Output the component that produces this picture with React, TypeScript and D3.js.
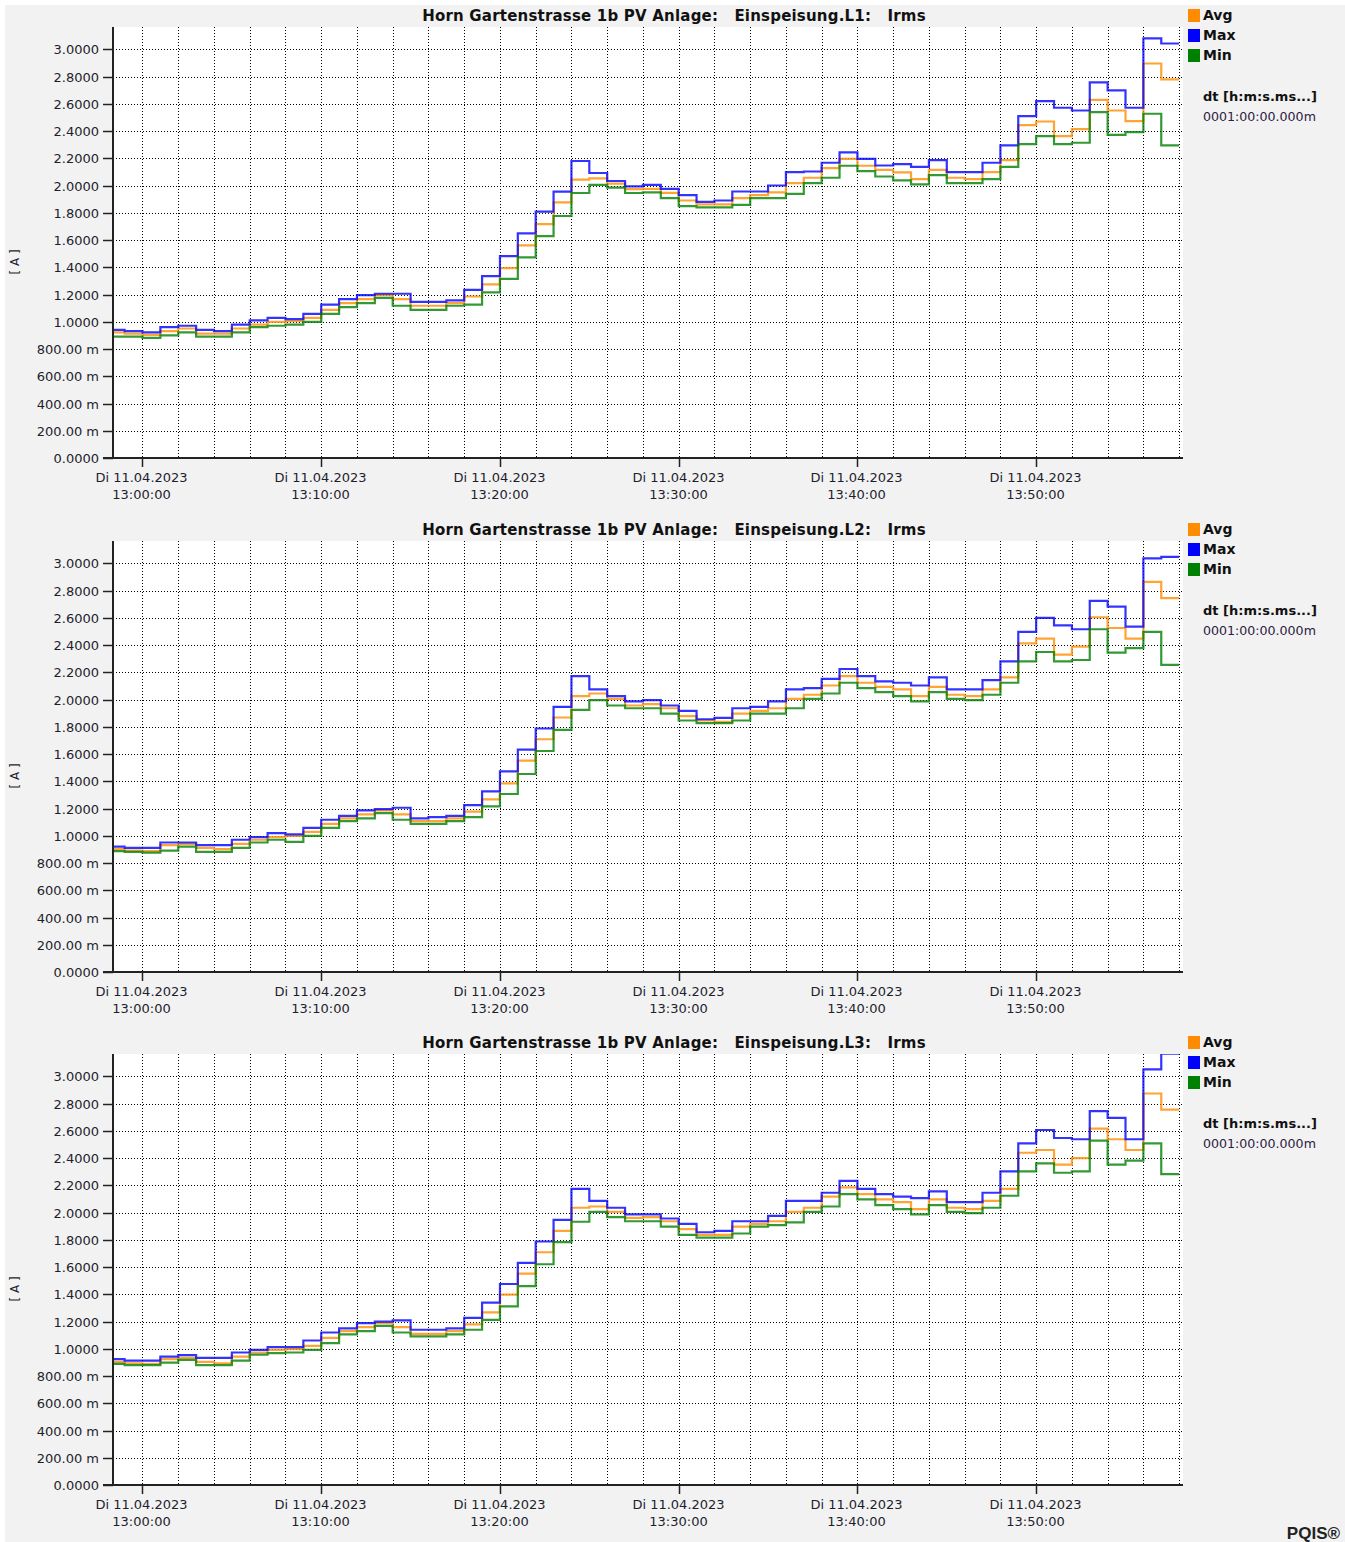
import React, { useEffect, useRef } from 'react';
import * as d3 from 'd3';

// one value per minute, 12:58 .. 13:57 (step after)
const startTime = new Date(2023, 3, 11, 12, 58, 0);

const phases = ['Einspeisung.L1', 'Einspeisung.L2', 'Einspeisung.L3'];

const avgL1 = [0.922, 0.914, 0.904, 0.931, 0.951, 0.914, 0.914, 0.951, 0.980, 1.000,
  1.005, 1.029, 1.088, 1.137, 1.167, 1.196, 1.167, 1.118, 1.118, 1.137,
  1.186, 1.275, 1.395, 1.561, 1.718, 1.877, 2.044, 2.054, 2.015, 1.975,
  1.977, 1.947, 1.891, 1.862, 1.862, 1.908, 1.930, 1.950, 2.018, 2.058,
  2.129, 2.197, 2.146, 2.116, 2.097, 2.048, 2.116, 2.058, 2.048, 2.099,
  2.187, 2.444, 2.471, 2.364, 2.415, 2.630, 2.552, 2.474, 2.897, 2.780];
const maxL1 = [0.941, 0.931, 0.922, 0.961, 0.971, 0.941, 0.931, 0.980, 1.010, 1.029,
  1.020, 1.059, 1.127, 1.167, 1.196, 1.206, 1.206, 1.147, 1.147, 1.157,
  1.235, 1.336, 1.483, 1.650, 1.809, 1.956, 2.181, 2.093, 2.034, 1.995,
  2.006, 1.977, 1.930, 1.881, 1.891, 1.957, 1.957, 2.001, 2.099, 2.104,
  2.168, 2.244, 2.197, 2.148, 2.158, 2.138, 2.187, 2.099, 2.099, 2.168,
  2.295, 2.510, 2.621, 2.572, 2.552, 2.758, 2.699, 2.572, 3.081, 3.044];
const minL1 = [0.892, 0.892, 0.882, 0.900, 0.922, 0.892, 0.892, 0.922, 0.961, 0.971,
  0.980, 1.000, 1.059, 1.108, 1.137, 1.176, 1.118, 1.088, 1.088, 1.118,
  1.127, 1.216, 1.316, 1.473, 1.630, 1.777, 1.946, 2.005, 1.985, 1.946,
  1.950, 1.908, 1.849, 1.840, 1.840, 1.859, 1.908, 1.908, 1.940, 2.018,
  2.058, 2.146, 2.107, 2.067, 2.038, 2.009, 2.077, 2.018, 2.018, 2.048,
  2.138, 2.305, 2.364, 2.305, 2.315, 2.540, 2.373, 2.393, 2.528, 2.295];

const avgL2 = [0.902, 0.892, 0.887, 0.931, 0.941, 0.912, 0.902, 0.941, 0.971, 0.990,
  1.000, 1.029, 1.088, 1.128, 1.157, 1.187, 1.157, 1.108, 1.108, 1.128,
  1.177, 1.267, 1.385, 1.552, 1.709, 1.869, 2.026, 2.045, 2.006, 1.957,
  1.967, 1.937, 1.879, 1.847, 1.837, 1.898, 1.918, 1.937, 2.006, 2.036,
  2.104, 2.173, 2.124, 2.094, 2.075, 2.026, 2.094, 2.036, 2.026, 2.075,
  2.163, 2.413, 2.448, 2.330, 2.389, 2.605, 2.526, 2.448, 2.865, 2.745];
const maxL2 = [0.921, 0.912, 0.912, 0.951, 0.951, 0.931, 0.931, 0.971, 0.990, 1.020,
  1.010, 1.059, 1.118, 1.147, 1.187, 1.196, 1.206, 1.128, 1.137, 1.147,
  1.226, 1.326, 1.474, 1.633, 1.788, 1.947, 2.173, 2.075, 2.026, 1.987,
  1.996, 1.957, 1.918, 1.856, 1.866, 1.937, 1.947, 1.987, 2.075, 2.085,
  2.153, 2.225, 2.173, 2.134, 2.124, 2.104, 2.163, 2.075, 2.075, 2.144,
  2.281, 2.497, 2.600, 2.546, 2.517, 2.725, 2.683, 2.536, 3.037, 3.049];
const minL2 = [0.887, 0.882, 0.877, 0.892, 0.921, 0.882, 0.882, 0.912, 0.951, 0.971,
  0.956, 1.000, 1.059, 1.108, 1.128, 1.167, 1.118, 1.088, 1.088, 1.108,
  1.137, 1.216, 1.307, 1.454, 1.623, 1.778, 1.925, 1.996, 1.957, 1.937,
  1.937, 1.898, 1.847, 1.827, 1.827, 1.847, 1.898, 1.898, 1.937, 2.006,
  2.045, 2.124, 2.085, 2.055, 2.026, 1.987, 2.055, 2.006, 1.996, 2.036,
  2.124, 2.281, 2.350, 2.281, 2.291, 2.517, 2.345, 2.379, 2.497, 2.256];

const avgL3 = [0.904, 0.894, 0.890, 0.924, 0.934, 0.904, 0.894, 0.943, 0.973, 0.993,
  0.998, 1.022, 1.081, 1.130, 1.160, 1.189, 1.160, 1.110, 1.110, 1.130,
  1.179, 1.267, 1.398, 1.552, 1.709, 1.866, 2.036, 2.045, 2.006, 1.962,
  1.967, 1.937, 1.879, 1.837, 1.837, 1.898, 1.918, 1.937, 2.006, 2.036,
  2.117, 2.185, 2.136, 2.097, 2.077, 2.026, 2.097, 2.036, 2.026, 2.087,
  2.175, 2.440, 2.460, 2.352, 2.401, 2.617, 2.539, 2.460, 2.875, 2.757];
const maxL3 = [0.924, 0.914, 0.914, 0.943, 0.953, 0.934, 0.934, 0.973, 0.993, 1.012,
  1.012, 1.061, 1.120, 1.150, 1.189, 1.199, 1.209, 1.140, 1.140, 1.150,
  1.228, 1.339, 1.476, 1.631, 1.788, 1.947, 2.175, 2.087, 2.036, 1.987,
  1.987, 1.957, 1.918, 1.856, 1.866, 1.937, 1.937, 1.977, 2.087, 2.087,
  2.146, 2.234, 2.175, 2.136, 2.117, 2.107, 2.156, 2.077, 2.077, 2.146,
  2.303, 2.509, 2.607, 2.548, 2.539, 2.745, 2.696, 2.539, 3.052, 3.167];
const minL3 = [0.890, 0.880, 0.880, 0.899, 0.919, 0.880, 0.880, 0.914, 0.958, 0.968,
  0.973, 0.993, 1.042, 1.106, 1.130, 1.169, 1.120, 1.091, 1.091, 1.106,
  1.140, 1.213, 1.312, 1.461, 1.621, 1.783, 1.933, 2.006, 1.967, 1.937,
  1.937, 1.898, 1.837, 1.817, 1.817, 1.847, 1.898, 1.908, 1.928, 2.006,
  2.045, 2.136, 2.097, 2.055, 2.026, 1.987, 2.055, 2.006, 1.996, 2.036,
  2.124, 2.303, 2.362, 2.293, 2.303, 2.529, 2.352, 2.382, 2.509, 2.283];

const yTicks = [0, 0.2, 0.4, 0.6, 0.8, 1.0, 1.2, 1.4, 1.6, 1.8, 2.0, 2.2, 2.4, 2.6, 2.8, 3.0];
const seriesNames = ['Avg', 'Max', 'Min'];
const seriesColors = ['#ff8c00', '#0000ff', '#008000'];

const panelData = [
  [avgL1, maxL1, minL1],
  [avgL2, maxL2, minL2],
  [avgL3, maxL3, minL3],
];

const FONT = "'DejaVu Sans', Verdana, sans-serif";

function yLabel(v: number) {
  if (v === 0) return '0.0000';
  if (v < 1) return (v * 1000).toFixed(2) + ' m';
  return v.toFixed(4);
}

export default function App() {
  const ref = useRef<SVGSVGElement>(null);

  useEffect(() => {
    if (!ref.current) return;
    const svg = d3.select(ref.current);
    svg.selectAll('*').remove();

    const left = 113, right = 1183, plotH = 431;
    const panelTops = [27, 541, 1054];

    svg.append('rect')
      .attr('x', 5).attr('y', 5).attr('width', 1340).attr('height', 1537)
      .attr('fill', '#f2f2f2');

    const x = d3.scaleTime()
      .domain([new Date(2023, 3, 11, 12, 58, 21), new Date(2023, 3, 11, 13, 58, 13)])
      .range([left, right]);

    const gridTimes = d3.timeMinute.every(2)!.range(x.domain()[0], x.domain()[1]);
    const majorTimes = d3.timeMinute.every(10)!.range(x.domain()[0], x.domain()[1]);
    const fmtDate = d3.timeFormat('%d.%m.%Y');
    const fmtTime = d3.timeFormat('%H:%M:%S');

    panelData.forEach((series, p) => {
      const top = panelTops[p];
      const bottom = top + plotH;
      const y = d3.scaleLinear().domain([0, 3.165]).range([bottom, top]);
      const g = svg.append('g');

      g.append('rect')
        .attr('x', left).attr('y', top).attr('width', right - left).attr('height', plotH)
        .attr('fill', '#ffffff');

      // grid
      g.append('g').selectAll('line')
        .data(yTicks.filter(d => d > 0))
        .enter().append('line')
        .attr('x1', left).attr('x2', right)
        .attr('y1', d => Math.round(y(d)) + 0.5).attr('y2', d => Math.round(y(d)) + 0.5)
        .attr('stroke', '#000').attr('stroke-width', 1).attr('stroke-dasharray', '1,2');
      g.append('g').selectAll('line')
        .data(gridTimes)
        .enter().append('line')
        .attr('x1', d => Math.round(x(d)) + 0.5).attr('x2', d => Math.round(x(d)) + 0.5)
        .attr('y1', top).attr('y2', bottom)
        .attr('stroke', '#000').attr('stroke-width', 1).attr('stroke-dasharray', '1,2');

      // clip
      const clipId = `clip-${p}`;
      svg.append('clipPath').attr('id', clipId)
        .append('rect').attr('x', left).attr('y', top).attr('width', right - left).attr('height', plotH);

      series.forEach((vals, si) => {
        const pts = vals.map((v, i) => ({ t: d3.timeMinute.offset(startTime, i), v }));
        pts.push({ t: d3.timeMinute.offset(startTime, vals.length), v: vals[vals.length - 1] });
        const line = d3.line<{ t: Date; v: number }>()
          .x(d => x(d.t))
          .y(d => y(d.v))
          .curve(d3.curveStepAfter);
        g.append('path')
          .datum(pts)
          .attr('clip-path', `url(#${clipId})`)
          .attr('fill', 'none')
          .attr('stroke', seriesColors[si])
          .attr('stroke-width', 2.2)
          .attr('stroke-opacity', 0.8)
          .attr('d', line);
      });

      // y axis
      g.append('line')
        .attr('x1', left).attr('x2', left).attr('y1', top).attr('y2', bottom + 1)
        .attr('stroke', '#222').attr('stroke-width', 2);
      yTicks.forEach(t => {
        const yy = Math.round(y(t)) + 0.5;
        g.append('line')
          .attr('x1', 103).attr('x2', left).attr('y1', yy).attr('y2', yy)
          .attr('stroke', '#222').attr('stroke-width', 1.5);
        g.append('text')
          .attr('x', 99).attr('y', yy).attr('dy', '0.36em')
          .attr('text-anchor', 'end')
          .attr('font-family', FONT).attr('font-size', 13).attr('fill', '#1e1e2e')
          .text(yLabel(t));
      });

      // x axis
      g.append('line')
        .attr('x1', 103).attr('x2', right).attr('y1', bottom).attr('y2', bottom)
        .attr('stroke', '#222').attr('stroke-width', 2);
      majorTimes.forEach(t => {
        const xx = Math.round(x(t)) + 0.5;
        g.append('line')
          .attr('x1', xx).attr('x2', xx).attr('y1', bottom).attr('y2', bottom + 9)
          .attr('stroke', '#222').attr('stroke-width', 1.5);
        const txt = g.append('text')
          .attr('text-anchor', 'middle')
          .attr('font-family', FONT).attr('font-size', 13).attr('fill', '#1e1e2e');
        txt.append('tspan').attr('x', xx - 1).attr('y', bottom + 24).text(`Di ${fmtDate(t)}`);
        txt.append('tspan').attr('x', xx - 1).attr('y', bottom + 41).text(fmtTime(t));
      });

      // unit label
      g.append('text')
        .attr('transform', `translate(19,${top + 235}) rotate(-90)`)
        .attr('text-anchor', 'middle')
        .attr('font-family', FONT).attr('font-size', 12).attr('fill', '#1e1e2e')
        .style('white-space', 'pre')
        .text('[ A ]');

      // title
      g.append('text')
        .attr('x', 674).attr('y', top - 6)
        .attr('text-anchor', 'middle')
        .attr('font-family', FONT).attr('font-size', 15).attr('font-weight', 'bold')
        .attr('letter-spacing', 0.2)
        .attr('fill', '#111')
        .style('white-space', 'pre')
        .text(`Horn Gartenstrasse 1b PV Anlage:   ${phases[p]}:   Irms`);

      // legend
      seriesNames.forEach((name, si) => {
        const ly = top - 18 + si * 20;
        g.append('rect')
          .attr('x', 1188).attr('y', ly).attr('width', 12).attr('height', 13)
          .attr('fill', seriesColors[si]);
        g.append('text')
          .attr('x', 1203).attr('y', ly + 11)
          .attr('font-family', FONT).attr('font-size', 14).attr('font-weight', 'bold')
          .attr('fill', '#111')
          .text(name);
      });
      g.append('text')
        .attr('x', 1203).attr('y', top + 74)
        .attr('font-family', FONT).attr('font-size', 13).attr('font-weight', 'bold')
        .attr('fill', '#111')
        .text('dt [h:m:s.ms...]');
      g.append('text')
        .attr('x', 1203).attr('y', top + 94)
        .attr('font-family', FONT).attr('font-size', 12.6)
        .attr('fill', '#2a2040')
        .text('0001:00:00.000m');
    });

    svg.append('text')
      .attr('x', 1340).attr('y', 1539)
      .attr('text-anchor', 'end')
      .attr('font-family', "'Liberation Sans', Arial, sans-serif")
      .attr('font-size', 17).attr('font-weight', 'bold')
      .attr('fill', '#222')
      .text('PQIS®');
  }, []);

  return (
    <svg
      ref={ref}
      width={1345}
      height={1542}
      style={{ position: 'absolute', left: 0, top: 0, background: '#ffffff' }}
    />
  );
}
